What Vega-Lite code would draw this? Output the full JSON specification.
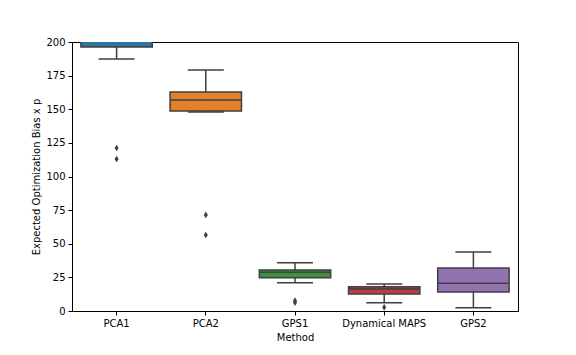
{
  "$schema": "https://vega.github.io/schema/vega-lite/v6.json",
  "width": 446,
  "height": 269,
  "autosize": {"type": "none"},
  "padding": {"left": 72, "top": 42, "right": 58, "bottom": 44},
  "background": "white",
  "config": {
    "view": {"stroke": "black", "strokeWidth": 1},
    "axis": {
      "labelFont": "DejaVu Sans", "labelFontSize": 10, "labelColor": "black",
      "titleFont": "DejaVu Sans", "titleFontSize": 10, "titleFontWeight": "normal", "titleColor": "black",
      "domainColor": "black", "tickColor": "black", "tickSize": 4, "tickWidth": 1, "labelPadding": 3,
      "grid": false
    }
  },
  "datasets": {
    "boxes": [
      {"Method": "PCA1", "lower": 187.4, "q1": 196.3, "median": 220, "q3": 240, "upper": 270},
      {"Method": "PCA2", "lower": 148.0, "q1": 148.7, "median": 156.9, "q3": 162.8, "upper": 179.2},
      {"Method": "GPS1", "lower": 21.0, "q1": 24.8, "median": 28.8, "q3": 30.5, "upper": 35.9},
      {"Method": "Dynamical MAPS", "lower": 6.2, "q1": 12.6, "median": 16.4, "q3": 18.1, "upper": 20.1},
      {"Method": "GPS2", "lower": 2.5, "q1": 14.1, "median": 20.6, "q3": 32.0, "upper": 43.9}
    ],
    "outliers": [
      {"Method": "PCA1", "value": 121.2},
      {"Method": "PCA1", "value": 113.0},
      {"Method": "PCA2", "value": 71.4},
      {"Method": "PCA2", "value": 56.5},
      {"Method": "GPS1", "value": 7.7},
      {"Method": "GPS1", "value": 6.3},
      {"Method": "Dynamical MAPS", "value": 2.7}
    ]
  },
  "layer": [
    {
      "data": {"name": "boxes"},
      "mark": {"type": "rule", "color": "#3f3f3f", "strokeWidth": 1.5, "clip": true},
      "encoding": {
        "x": {"field": "Method", "type": "nominal"},
        "y": {"field": "lower", "type": "quantitative"},
        "y2": {"field": "upper"}
      }
    },
    {
      "data": {"name": "boxes"},
      "mark": {"type": "bar", "width": {"band": 0.8}, "stroke": "#3f3f3f", "strokeWidth": 1.5, "clip": true, "opacity": 1},
      "encoding": {
        "x": {"field": "Method", "type": "nominal"},
        "y": {"field": "q1", "type": "quantitative"},
        "y2": {"field": "q3"},
        "color": {
          "field": "Method", "type": "nominal", "legend": null,
          "scale": {
            "domain": ["PCA1", "PCA2", "GPS1", "Dynamical MAPS", "GPS2"],
            "range": ["#3274a1", "#e1812c", "#3a923a", "#c03d3e", "#9372b2"]
          }
        }
      }
    },
    {
      "data": {"name": "boxes"},
      "mark": {"type": "tick", "color": "#3f3f3f", "size": 71, "thickness": 1.5, "opacity": 1, "clip": true},
      "encoding": {
        "x": {"field": "Method", "type": "nominal"},
        "y": {"field": "median", "type": "quantitative"}
      }
    },
    {
      "data": {"name": "boxes"},
      "mark": {"type": "tick", "color": "#3f3f3f", "size": 36, "thickness": 1.5, "opacity": 1, "clip": true},
      "encoding": {
        "x": {"field": "Method", "type": "nominal"},
        "y": {"field": "lower", "type": "quantitative"}
      }
    },
    {
      "data": {"name": "boxes"},
      "mark": {"type": "tick", "color": "#3f3f3f", "size": 36, "thickness": 1.5, "opacity": 1, "clip": true},
      "encoding": {
        "x": {"field": "Method", "type": "nominal"},
        "y": {"field": "upper", "type": "quantitative"}
      }
    },
    {
      "data": {"name": "outliers"},
      "mark": {"type": "point", "shape": "M0,-1L0.6,0L0,1L-0.6,0Z", "filled": true, "color": "#3f3f3f", "size": 45, "opacity": 1, "clip": true},
      "encoding": {
        "x": {"field": "Method", "type": "nominal"},
        "y": {"field": "value", "type": "quantitative"}
      }
    }
  ],
  "resolve": {"scale": {"color": "independent"}},
  "encoding": {
    "x": {
      "field": "Method", "type": "nominal", "title": "Method",
      "sort": ["PCA1", "PCA2", "GPS1", "Dynamical MAPS", "GPS2"],
      "scale": {"domain": ["PCA1", "PCA2", "GPS1", "Dynamical MAPS", "GPS2"], "paddingInner": 0, "paddingOuter": 0},
      "axis": {"labelAngle": 0, "titlePadding": 4}
    },
    "y": {
      "type": "quantitative", "title": "Expected Optimization Bias x p",
      "scale": {"domain": [0, 200], "nice": false, "zero": true},
      "axis": {"values": [0, 25, 50, 75, 100, 125, 150, 175, 200], "titlePadding": 4}
    }
  }
}
